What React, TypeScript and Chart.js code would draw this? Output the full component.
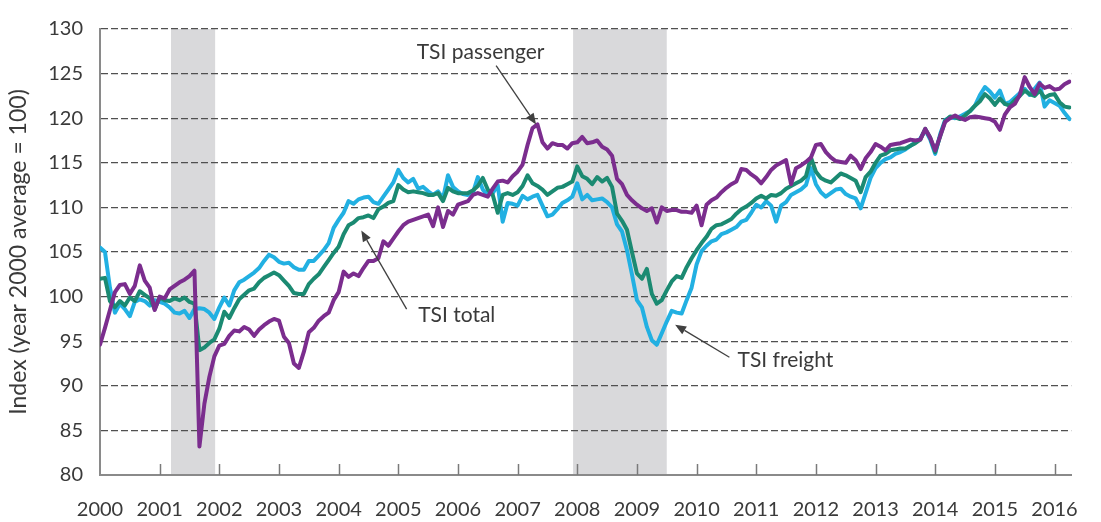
import { useEffect, useRef } from "react";
import { Chart, registerables } from "chart.js";

Chart.register(...registerables);

const START_YEAR = 2000;
const X_MAX = 2016.28;
const Y_MIN = 80;
const Y_MAX = 130;
const Y_STEP = 5;
const yearTicks = [2000, 2001, 2002, 2003, 2004, 2005, 2006, 2007, 2008, 2009, 2010, 2011, 2012, 2013, 2014, 2015, 2016];

// Monthly index values, Jan 2000 .. Apr 2016 (one row per year)
const passenger = [
  94.6, 96.5, 98.5, 100.5, 101.3, 101.4, 100.3, 101.2, 103.5, 101.8, 101.0, 98.5,
  100.0, 99.8, 100.8, 101.2, 101.6, 101.9, 102.3, 102.9, 83.2, 88.0, 91.0, 93.3,
  94.5, 94.7, 95.6, 96.2, 96.1, 96.6, 96.3, 95.6, 96.3, 96.8, 97.2, 97.5,
  97.3, 95.5, 94.8, 92.5, 92.0, 93.8, 96.0, 96.5, 97.3, 97.8, 98.2, 99.6,
  100.5, 102.8, 102.2, 102.6, 102.3, 103.2, 104.0, 104.0, 104.3, 106.2, 105.7, 106.5,
  107.3, 108.0, 108.4, 108.6, 108.8, 109.0, 109.2, 107.9, 110.0, 107.8, 109.6, 109.2,
  110.3, 110.5, 110.7, 111.4, 111.6, 111.4, 111.2, 112.1, 112.9, 113.0, 112.8, 113.5,
  114.0, 114.8, 117.0, 118.9, 119.3, 117.3, 116.6, 117.2, 117.0, 117.0, 116.6, 117.2,
  117.3, 117.9, 117.2, 117.3, 117.5, 116.8, 116.5, 115.8, 113.2, 112.6, 111.4, 110.8,
  110.3, 109.9, 109.6, 109.9, 108.3, 110.0, 109.6, 109.7, 109.7, 109.5, 109.5, 109.4,
  110.2, 108.0, 110.3, 110.8, 111.1, 111.7, 112.2, 112.6, 112.9, 114.3, 114.2, 113.7,
  113.3, 112.7, 113.4, 114.2, 114.7, 115.0, 115.3, 112.6, 114.4, 114.7, 115.1, 115.6,
  117.0, 117.1, 116.2, 115.6, 115.2, 115.1, 115.0, 115.8, 115.3, 114.3, 115.5, 116.2,
  117.1, 116.8, 116.4, 117.0, 117.1, 117.2, 117.4, 117.6, 117.5, 117.6, 118.8, 117.8,
  116.4, 118.0, 119.6, 120.0, 120.3, 120.0, 119.8, 120.1, 120.2, 120.1, 120.0, 119.9,
  119.6, 118.7, 120.4, 121.2, 121.6, 122.6, 124.6, 123.5, 122.7, 123.9, 123.4, 123.6,
  123.2, 123.3, 123.8, 124.1,
];

const total = [
  102.0, 102.1, 99.5, 98.8, 99.5, 99.0, 99.9, 99.5, 100.6, 100.2, 99.8, 98.6,
  99.9, 99.6, 99.5, 99.8, 99.6, 99.9, 99.4, 99.2, 94.0, 94.3, 94.8, 95.2,
  96.4, 98.3, 97.6, 98.7, 99.7, 100.2, 100.7, 100.9, 101.6, 102.1, 102.4, 102.7,
  102.4, 101.8, 101.2, 100.4, 100.3, 100.3, 101.4, 102.0, 102.5, 103.3, 104.1, 104.9,
  105.6, 107.0, 108.0, 108.3, 108.8, 108.9, 109.1, 108.8, 109.8, 110.1, 110.5, 110.7,
  112.5, 112.0, 111.7, 111.8, 111.7, 111.6, 111.4, 111.4, 111.6, 110.7, 112.2, 111.8,
  111.6, 111.6, 111.6, 111.9, 112.4, 113.3, 112.0, 111.4, 109.4, 111.4, 111.6, 111.4,
  111.7, 112.4, 113.6, 112.7, 112.4, 112.0, 111.4, 111.8, 112.2, 112.3, 112.6, 112.9,
  114.6, 113.5, 113.2, 112.6, 113.4, 112.9, 113.3, 112.3, 109.3, 108.5, 107.5, 105.0,
  102.6, 102.0, 103.1, 100.3, 99.2, 99.6, 100.7, 101.7, 102.3, 102.1, 103.3, 104.3,
  105.2, 106.0, 106.7, 107.6, 108.0, 108.1, 108.4, 108.7, 109.3, 109.8, 110.1, 110.5,
  111.0, 111.3, 111.0, 111.4, 111.3, 111.6, 112.1, 112.4, 112.7, 113.0, 113.5, 115.6,
  114.0, 113.3, 113.0, 112.8, 113.3, 113.8, 113.6, 113.3, 113.0, 111.7, 113.4, 114.0,
  115.0, 115.8, 116.0, 116.4, 116.5, 116.6, 116.6, 116.9, 117.2, 117.6, 118.8, 117.8,
  116.2, 118.0, 119.7, 120.2, 120.1, 119.9, 120.3, 120.8, 121.4, 121.9, 122.7, 122.2,
  121.5, 122.2, 121.6, 121.4, 122.0, 122.5, 123.1, 122.7, 122.5, 123.1, 122.3, 122.6,
  122.7, 121.8, 121.3, 121.2,
];

const freight = [
  105.5, 105.0, 101.0, 98.2, 99.2, 98.6, 97.8, 99.4, 99.7, 99.5, 99.0, 99.6,
  99.4, 99.2, 98.8, 98.2, 98.1, 98.4, 97.6, 98.6, 98.7, 98.6, 98.2, 97.5,
  98.8, 99.9, 99.0, 100.7, 101.6, 101.9, 102.3, 102.7, 103.2, 104.0, 104.7, 104.4,
  103.9, 103.7, 103.8, 103.3, 103.0, 103.0, 104.0, 104.0, 104.6, 105.2, 106.0, 107.7,
  108.6, 109.4, 110.7, 110.4, 110.9, 111.1, 111.2, 110.6, 110.4, 111.2, 112.0, 112.8,
  114.2, 113.3, 112.8, 113.2, 112.1, 112.3, 111.8, 111.4, 111.8, 111.0, 113.6, 112.3,
  111.8, 111.5, 111.4, 111.6, 113.4, 112.0, 111.4, 111.6, 112.5, 108.4, 110.5, 110.4,
  110.2, 111.3, 110.9, 111.2, 111.4, 110.2, 109.0, 109.2, 109.8, 110.5, 110.8, 111.2,
  112.7, 110.9, 111.4, 110.8, 110.9, 111.0, 110.6, 110.0, 108.1, 107.3, 105.2, 102.5,
  99.6, 98.8, 96.6, 95.1, 94.6, 95.9, 97.2, 98.4, 98.2, 98.1, 99.6, 101.0,
  103.6, 105.1, 105.7, 106.2, 106.4, 107.0, 107.2, 107.5, 107.8, 108.4, 108.6, 109.4,
  110.3, 110.0, 110.7, 110.2, 108.4, 110.2, 110.6, 111.4, 111.7, 112.0, 112.5, 114.4,
  112.6, 111.7, 111.2, 111.6, 112.0, 112.1, 111.5, 111.2, 111.0, 109.9, 111.6, 113.3,
  114.4, 115.0, 115.4, 115.6, 116.0, 116.2, 116.5, 116.9, 117.3, 117.7, 118.7, 117.6,
  116.0, 118.2, 119.8, 120.1, 120.0, 120.2, 120.5, 120.8, 121.4, 122.6, 123.5, 123.0,
  122.3, 123.1, 121.6, 121.8, 122.3, 122.8, 123.3, 122.6, 123.3, 124.0, 121.3, 122.0,
  121.7, 121.4, 120.6, 119.9,
];

// Recession periods (fractional years)
const recessionStarts = [2001.19, 2007.93];
const recessionEnds = [2001.93, 2009.5];

// Callout labels in data coordinates
const calloutLabels = ["TSI passenger", "TSI total", "TSI freight"];
const calloutTextX = [2006.38, 2005.98, 2011.49];
const calloutTextY = [127.4, 97.95, 92.9];
const calloutTailX = [2006.64, 2005.14, 2010.55];
const calloutTailY = [125.9, 98.6, 93.2];
const calloutHeadX = [2007.31, 2004.38, 2009.64];
const calloutHeadY = [119.3, 107.4, 96.85];

const FONT = 'Lato, "Open Sans", sans-serif';
const TEXT = "#3a3a3a";

const toPoints = (arr: number[]) => arr.map((v, i) => ({ x: START_YEAR + i / 12, y: v }));

const decorations = {
  id: "decorations",
  beforeDraw(chart: any) {
    const { ctx, chartArea } = chart;
    const x = chart.scales.x;
    ctx.save();
    ctx.fillStyle = "#ffffff";
    ctx.fillRect(0, 0, chart.width, chart.height);
    ctx.fillStyle = "#d9d9db";
    for (let k = 0; k < recessionStarts.length; k++) {
      const x1 = x.getPixelForValue(recessionStarts[k]);
      const x2 = x.getPixelForValue(recessionEnds[k]);
      ctx.fillRect(x1, chartArea.top, x2 - x1, chartArea.bottom - chartArea.top);
    }
    ctx.restore();
  },
  afterDatasetsDraw(chart: any) {
    const { ctx } = chart;
    const x = chart.scales.x;
    const y = chart.scales.y;
    ctx.save();
    for (let k = 0; k < calloutLabels.length; k++) {
      const tx = x.getPixelForValue(calloutTailX[k]);
      const ty = y.getPixelForValue(calloutTailY[k]);
      const hx = x.getPixelForValue(calloutHeadX[k]);
      const hy = y.getPixelForValue(calloutHeadY[k]);
      ctx.strokeStyle = "#404040";
      ctx.fillStyle = "#404040";
      ctx.lineWidth = 1.3;
      const ang = Math.atan2(hy - ty, hx - tx);
      const L = 11;
      const W = 4.5;
      const bx = hx - L * Math.cos(ang);
      const by = hy - L * Math.sin(ang);
      ctx.beginPath();
      ctx.moveTo(tx, ty);
      ctx.lineTo(bx, by);
      ctx.stroke();
      ctx.beginPath();
      ctx.moveTo(hx, hy);
      ctx.lineTo(bx + W * Math.sin(ang), by - W * Math.cos(ang));
      ctx.lineTo(bx - W * Math.sin(ang), by + W * Math.cos(ang));
      ctx.closePath();
      ctx.fill();
      ctx.font = `21px ${FONT}`;
      ctx.fillStyle = TEXT;
      ctx.textAlign = "center";
      ctx.textBaseline = "middle";
      ctx.fillText(calloutLabels[k], x.getPixelForValue(calloutTextX[k]), y.getPixelForValue(calloutTextY[k]));
    }
    ctx.restore();
  },
  afterDraw(chart: any) {
    const { ctx, chartArea } = chart;
    const x = chart.scales.x;
    ctx.save();
    ctx.strokeStyle = "#7a7a7a";
    ctx.lineWidth = 1.5;
    for (const yr of yearTicks) {
      if (yr === START_YEAR) continue;
      const px = Math.round(x.getPixelForValue(yr)) + 0.5;
      ctx.beginPath();
      ctx.moveTo(px, chartArea.bottom);
      ctx.lineTo(px, chartArea.bottom - 11);
      ctx.stroke();
    }
    ctx.restore();
  },
};

export default function App() {
  const canvasRef = useRef<HTMLCanvasElement | null>(null);

  useEffect(() => {
    const canvas = canvasRef.current;
    if (!canvas) return;
    const chart = new Chart(canvas, {
      type: "line",
      data: {
        datasets: [
          {
            label: "TSI passenger",
            data: toPoints(passenger),
            borderColor: "#7b2d8e",
            borderWidth: 4,
            pointRadius: 0,
            tension: 0,
            borderJoinStyle: "round",
            borderCapStyle: "round",
          },
          {
            label: "TSI total",
            data: toPoints(total),
            borderColor: "#1b8a72",
            borderWidth: 4,
            pointRadius: 0,
            tension: 0,
            borderJoinStyle: "round",
            borderCapStyle: "round",
          },
          {
            label: "TSI freight",
            data: toPoints(freight),
            borderColor: "#22b0e2",
            borderWidth: 4,
            pointRadius: 0,
            tension: 0,
            borderJoinStyle: "round",
            borderCapStyle: "round",
          },
        ],
      },
      options: {
        animation: false,
        responsive: false,
        maintainAspectRatio: false,
        layout: { padding: { top: 21, right: 16, left: 0, bottom: 0 } },
        plugins: {
          legend: { display: false },
          tooltip: { enabled: false },
        },
        scales: {
          x: {
            type: "linear",
            min: START_YEAR,
            max: X_MAX,
            afterFit: (s: any) => {
              s.height = 47;
            },
            grid: { display: false, drawTicks: false },
            border: { display: true, color: "#8a8a8a", width: 2 },
            ticks: {
              stepSize: 1,
              autoSkip: false,
              includeBounds: false,
              maxRotation: 0,
              padding: 23,
              color: TEXT,
              font: { family: FONT, size: 20 },
              callback: (v: any) => (Number.isInteger(v) && yearTicks.includes(v) ? String(v) : ""),
            },
          },
          y: {
            min: Y_MIN,
            max: Y_MAX,
            afterFit: (s: any) => {
              s.width = 100;
            },
            grid: {
              drawTicks: false,
              lineWidth: 1.2,
              color: (c: any) => (c.tick && c.tick.value === Y_MIN ? "rgba(0,0,0,0)" : "#505050"),
            },
            border: { display: true, color: "#8a8a8a", width: 2, dash: [7, 3] },
            ticks: {
              stepSize: Y_STEP,
              padding: 17,
              color: TEXT,
              font: { family: FONT, size: 20 },
              callback: (v: any) => String(v),
            },
            title: {
              display: true,
              text: "Index (year 2000 average = 100)",
              color: TEXT,
              font: { family: FONT, size: 23 },
              padding: { top: 5, bottom: 0 },
            },
          },
        },
      },
      plugins: [decorations],
    });
    return () => chart.destroy();
  }, []);

  return (
    <div style={{ position: "absolute", left: 0, top: 0, width: 1101, height: 522, background: "#fff" }}>
      <canvas ref={canvasRef} width={1101} height={522} style={{ width: 1101, height: 522, display: "block" }} />
    </div>
  );
}
